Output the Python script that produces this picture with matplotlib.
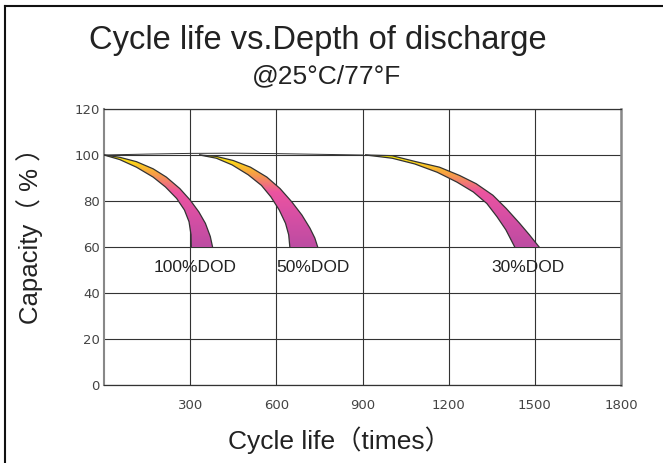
import numpy as np
import matplotlib.pyplot as plt
from matplotlib.colors import LinearSegmentedColormap
from matplotlib.patches import Polygon
from matplotlib.lines import Line2D

# band edges: (cycles, capacity %)
dod_labels = ["100%DOD", "50%DOD", "30%DOD"]
label_x = [317, 727, 1477]

upper_x = [[0, 55, 113, 171, 217, 264, 300, 330, 353, 370, 378],
           [333, 391, 450, 510, 567, 613, 654, 689, 717, 734, 744],
           [911, 1003, 1086, 1168, 1238, 1296, 1354, 1400, 1447, 1481, 1515]]
upper_y = [[100, 99.0, 97.1, 94.0, 90.4, 85.4, 80.4, 75.3, 70.3, 64.6, 60],
           [100, 99.4, 97.6, 94.7, 90.4, 85.4, 79.6, 73.9, 68.2, 63.9, 60],
           [100, 99.7, 97.1, 94.7, 91.1, 87.5, 82.5, 76.8, 70.3, 65.3, 60]]
lower_x = [[0, 55, 113, 171, 214, 253, 280, 296, 303, 304],
           [333, 391, 446, 502, 548, 581, 610, 632, 643, 647],
           [911, 1003, 1082, 1160, 1229, 1286, 1333, 1368, 1399, 1430]]
lower_y = [[100, 98.0, 94.7, 90.4, 86.1, 81.1, 76.1, 71.0, 65.3, 60],
           [100, 98.6, 95.7, 91.4, 86.8, 81.8, 76.1, 70.3, 65.3, 60],
           [100, 98.6, 96.1, 92.5, 88.2, 83.9, 78.9, 73.2, 67.5, 60]]

top_x = [0, 150, 300, 450, 600, 750, 900]
top_y = [100, 100.4, 100.7, 100.8, 100.6, 100.3, 100.0]

x_ticks = [300, 600, 900, 1200, 1500, 1800]
y_ticks = [0, 20, 40, 60, 80, 100, 120]

fig = plt.figure(figsize=(6.63, 4.63), dpi=100)
ax = fig.add_axes([104/663, 1-385/463, 517/663, 276/463])
ax.set_xlim(0, 1800)
ax.set_ylim(0, 120)

cmap = LinearSegmentedColormap.from_list(
    "band", [(0, "#bd4ca2"), (0.35, "#d84fa4"), (0.6, "#ec54a0"),
             (0.8, "#f7a045"), (1, "#fff200")])
grad = np.linspace(0, 1, 200).reshape(-1, 1)

for i in range(3):
    pts = list(zip(upper_x[i], upper_y[i])) + list(zip(lower_x[i][::-1], lower_y[i][::-1]))
    poly = Polygon(pts, closed=True, facecolor="none", edgecolor="none")
    ax.add_patch(poly)
    im = ax.imshow(grad, cmap=cmap, aspect="auto", origin="lower",
                   extent=[0, 1800, 60, 100], zorder=3)
    im.set_clip_path(poly)
    ax.plot(upper_x[i], upper_y[i], color="#333333", lw=0.9, zorder=4)
    ax.plot(lower_x[i], lower_y[i], color="#333333", lw=0.9, zorder=4)
    ax.text(label_x[i], 51, dod_labels[i], ha="center", va="center",
            fontsize=12.5, color="#222222", family="Liberation Sans")

ax.plot(top_x, top_y, color="#333333", lw=0.7, zorder=4)

ax.set_xticks(x_ticks)
ax.set_yticks(y_ticks)
ax.grid(True, color="#333333", lw=0.8)
ax.set_axisbelow(True)
ax.tick_params(length=0, labelsize=9.5, labelcolor="#444444")
ax.tick_params(axis="x", pad=10)
ax.tick_params(axis="y", pad=3)
for s in ["top", "bottom"]:
    ax.spines[s].set_color("#333333")
    ax.spines[s].set_linewidth(0.9)
ax.spines["left"].set_color("#888888")
ax.spines["left"].set_linewidth(1.5)
ax.spines["right"].set_color("#888888")
ax.spines["right"].set_linewidth(1.8)

fig.text(318/663, 1-40/463, "Cycle life vs.Depth of discharge", ha="center", va="center",
         fontsize=23.5, color="#222222", family="Liberation Sans")
fig.text(327/663, 1-76/463, "@25°C/77°F", ha="center", va="center",
         fontsize=19, color="#222222", family="Liberation Sans")
fig.text(340/663, 1-440/463, "Cycle life（times）", ha="center", va="center",
         fontsize=19, color="#222222", family=["Liberation Sans", "Noto Sans CJK SC"])
fig.text(30/663, 1-230/463, "Capacity（ % ）", ha="center", va="center", rotation=90,
         fontsize=18.5, color="#222222", family=["Liberation Sans", "Noto Sans CJK SC"])

# frame of the screenshot (left and top edges)
fig.add_artist(Line2D([5/663, 5/663], [0, 1-6/463], color="#111111", lw=1.5))
fig.add_artist(Line2D([5/663, 1], [1-6/463, 1-6/463], color="#111111", lw=1.5))

fig.savefig("out.png", dpi=100)
